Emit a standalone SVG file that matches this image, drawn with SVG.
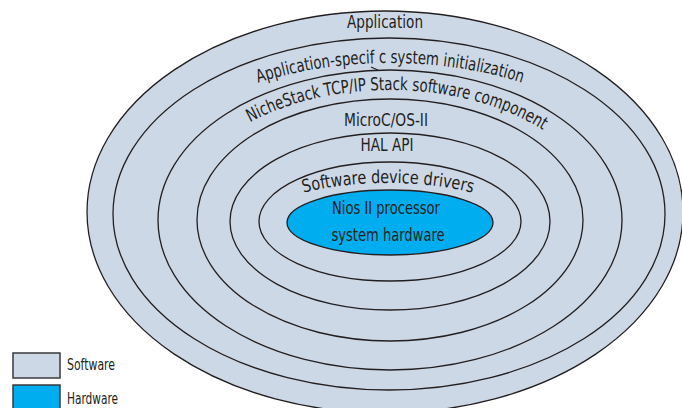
<svg xmlns="http://www.w3.org/2000/svg" width="682" height="408" viewBox="0 0 682 408">
<style>
.sw{fill:#cdd8e6;stroke:#231f20;stroke-width:1.3}
.hw{fill:#00adef;stroke:#231f20;stroke-width:1.3}
.t{font-family:"DejaVu Sans Condensed","Liberation Sans Narrow","Liberation Sans",sans-serif;font-size:18px;fill:#231f20}
.lg{font-family:"DejaVu Sans Condensed","Liberation Sans Narrow","Liberation Sans",sans-serif;font-size:15px;fill:#231f20}
.box{stroke:#3a3a3a;stroke-width:1.5}
</style>
<defs>
<path id="arc2" d="M 118,220 A 272,157 0 0 1 662,220"/>
<path id="arc3" d="M 178,220 A 212,130 0 0 1 602,220"/>
<path id="arc6" d="M 261,222 A 127,39 0 0 1 515,222"/>
</defs>
<rect width="682" height="408" fill="#ffffff"/>
<g id="application">
<ellipse class="sw" cx="385" cy="212" rx="298" ry="201"/>
<text class="t" x="385" y="28" text-anchor="middle" textLength="76" lengthAdjust="spacingAndGlyphs">Application</text>
</g>
<g id="app-init">
<ellipse class="sw" cx="389" cy="214" rx="276" ry="176"/>
<text class="t" font-size="18"><textPath href="#arc2" startOffset="50%" text-anchor="middle" textLength="268" lengthAdjust="spacingAndGlyphs">Application-specif c system initialization</textPath></text>
<path d="M 371,67 L 382,72" stroke="#231f20" stroke-width="1.2" fill="none"/>
</g>
<g id="nichestack">
<ellipse class="sw" cx="390" cy="220" rx="232" ry="150"/>
<text class="t" font-size="18"><textPath href="#arc3" startOffset="51.4%" text-anchor="middle" textLength="305" lengthAdjust="spacingAndGlyphs">NicheStack TCP/IP Stack software component</textPath></text>
</g>
<g id="microc">
<ellipse class="sw" cx="390" cy="220" rx="193" ry="121"/>
<text class="t" x="386" y="126" text-anchor="middle" textLength="84" lengthAdjust="spacingAndGlyphs">MicroC/OS-II</text>
</g>
<g id="hal">
<ellipse class="sw" cx="390" cy="221.5" rx="160" ry="88.5"/>
<text class="t" x="387" y="151" text-anchor="middle" textLength="53" lengthAdjust="spacingAndGlyphs">HAL API</text>
</g>
<g id="drivers">
<ellipse class="sw" cx="390" cy="221.5" rx="131" ry="59.5"/>
<text class="t" font-size="18"><textPath href="#arc6" startOffset="50%" text-anchor="middle" textLength="170" lengthAdjust="spacingAndGlyphs">Software device drivers</textPath></text>
</g>
<g id="hardware">
<ellipse class="hw" cx="390" cy="222.5" rx="103" ry="32.5"/>
<text class="t" x="386" y="214" text-anchor="middle" textLength="108" lengthAdjust="spacingAndGlyphs">Nios II processor</text>
<text class="t" x="388" y="241" text-anchor="middle" textLength="113" lengthAdjust="spacingAndGlyphs">system hardware</text>
</g>
<g id="legend">
<g id="legend-software">
<rect class="box" x="13" y="353" width="47" height="25" fill="#cdd8e6"/>
<text class="lg" x="67" y="370" textLength="48" lengthAdjust="spacingAndGlyphs">Software</text>
</g>
<g id="legend-hardware">
<rect class="box" x="13" y="385" width="47" height="26" fill="#00adef"/>
<text class="lg" x="67" y="404" textLength="51" lengthAdjust="spacingAndGlyphs">Hardware</text>
</g>
</g>
<g id="connectors"></g>
</svg>
